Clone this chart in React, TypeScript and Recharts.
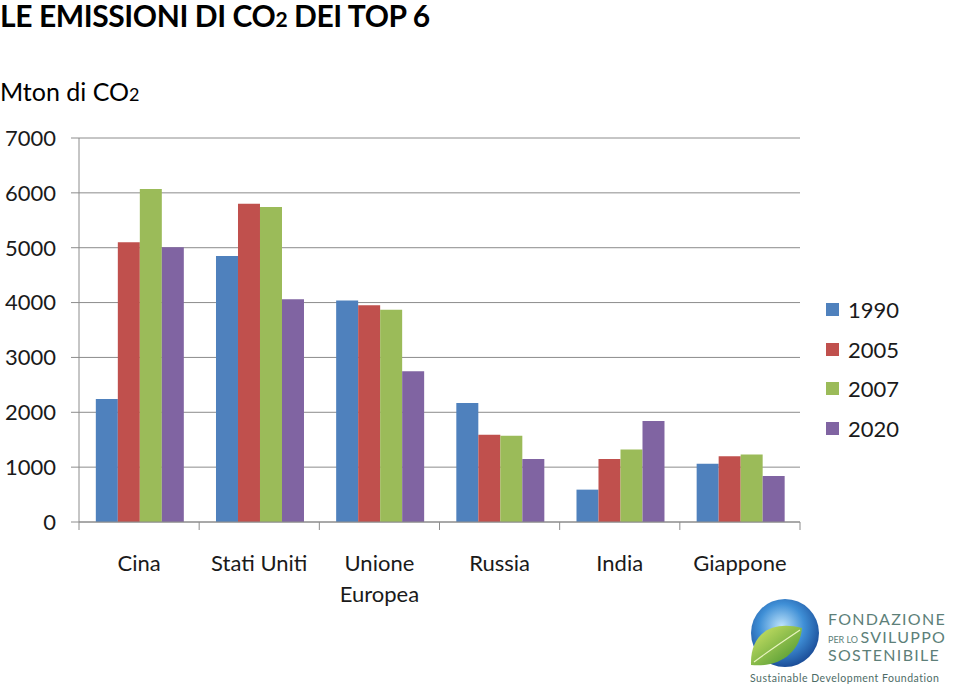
import React from "react";
import { BarChart, Bar, XAxis, YAxis, CartesianGrid } from "recharts";

const categories = ["Cina", "Stati Uniti", "Unione\nEuropea", "Russia", "India", "Giappone"];
const series1990 = [2240, 4850, 4040, 2170, 590, 1060];
const series2005 = [5100, 5800, 3950, 1590, 1150, 1200];
const series2007 = [6070, 5740, 3870, 1570, 1320, 1230];
const series2020 = [5010, 4060, 2750, 1150, 1840, 840];
const yTicks = [0, 1000, 2000, 3000, 4000, 5000, 6000, 7000];
const seriesNames = ["1990", "2005", "2007", "2020"];
const seriesColors = ["#4F81BD", "#C0504D", "#9BBB59", "#8064A2"];

const data = categories.map((c, i) => ({
  name: c,
  "1990": series1990[i],
  "2005": series2005[i],
  "2007": series2007[i],
  "2020": series2020[i],
}));

const FONT = "Lato, 'Open Sans', sans-serif";
const GRID = "#8c8c8c";

const CategoryTick = (props: any) => {
  const { x, y, payload, index, visibleTicksCount } = props;
  const half = payload && payload.offset ? payload.offset : 60;
  const lines = String(payload.value).split("\n");
  const last = index === (visibleTicksCount ?? categories.length) - 1;
  return (
    <g>
      <line x1={x - half} x2={x - half} y1={y - 8} y2={y} stroke={GRID} strokeWidth={1} />
      {last && <line x1={x + half} x2={x + half} y1={y - 8} y2={y} stroke={GRID} strokeWidth={1} />}
      <text x={x} y={y} textAnchor="middle" fill="#1a1a1a" fontFamily={FONT} fontSize={22}>
        {lines.map((l, i) => (
          <tspan key={i} x={x} dy={i === 0 ? 41 : 31}>
            {l}
          </tspan>
        ))}
      </text>
    </g>
  );
};

const LegendBox = () => (
  <div style={{ position: "absolute", left: 826, top: 290, fontFamily: FONT }}>
    {seriesNames.map((n, i) => (
      <div key={n} style={{ display: "flex", alignItems: "center", height: 39.5 }}>
        <div style={{ width: 13, height: 13, background: seriesColors[i], marginRight: 9 }} />
        <span style={{ fontSize: 22, color: "#1a1a1a" }}>{n}</span>
      </div>
    ))}
  </div>
);

const Logo = () => (
  <svg width={230} height={99} style={{ position: "absolute", left: 730, top: 590 }}>
    <defs>
      <radialGradient id="globe" cx="45%" cy="40%" r="60%">
        <stop offset="0%" stopColor="#bfe4fb" />
        <stop offset="55%" stopColor="#3f8fd6" />
        <stop offset="100%" stopColor="#1c4f9a" />
      </radialGradient>
      <linearGradient id="leaf" x1="0" y1="0" x2="1" y2="1">
        <stop offset="0%" stopColor="#d5e86a" />
        <stop offset="100%" stopColor="#3f8f2a" />
      </linearGradient>
    </defs>
    <circle cx={55} cy={43} r={34} fill="url(#globe)" />
    <path d="M21 75 C 20 45, 40 30, 72 38 C 70 62, 50 78, 21 75 Z" fill="url(#leaf)" />
    <path d="M24 72 C 40 60, 55 50, 70 40" stroke="#e9f4c0" strokeWidth={1.2} fill="none" />
    <text x={98} y={35} fontFamily={FONT} fontSize={16} fill="#5d7f79" letterSpacing={1.3}>FONDAZIONE</text>
    <text x={98} y={53} fontFamily={FONT} fill="#5d7f79">
      <tspan fontSize={9}>PER LO </tspan>
      <tspan fontSize={16} letterSpacing={1.3}>SVILUPPO</tspan>
    </text>
    <text x={98} y={71} fontFamily={FONT} fontSize={16} fill="#5d7f79" letterSpacing={1.3}>SOSTENIBILE</text>
    <text x={20} y={92} fontFamily={FONT} fontSize={10.5} fill="#4d6b66" letterSpacing={0.5}>Sustainable Development Foundation</text>
  </svg>
);

export default function App() {
  return (
    <div style={{ position: "absolute", left: 0, top: 0, width: 960, height: 689, background: "#fff", fontFamily: FONT }}>
      <div style={{ position: "absolute", left: 0, top: 0, fontSize: 30, lineHeight: "30px", fontWeight: 700, color: "#000", whiteSpace: "nowrap", letterSpacing: -0.4 }}>
        LE EMISSIONI DI CO<span style={{ fontSize: 21 }}>2</span> DEI TOP 6
      </div>
      <div style={{ position: "absolute", left: 0, top: 76, fontSize: 25, lineHeight: "30px", color: "#000", whiteSpace: "nowrap" }}>
        Mton di CO<span style={{ fontSize: 18 }}>2</span>
      </div>
      <div style={{ position: "absolute", left: 0, top: 0 }}>
        <BarChart
          width={960}
          height={689}
          data={data}
          margin={{ top: 138, right: 160, bottom: 67, left: 0 }}
          barCategoryGap="14%"
          barGap={0}
        >
          <CartesianGrid horizontal vertical={false} stroke={GRID} strokeWidth={1} />
          <XAxis
            dataKey="name"
            height={100}
            axisLine={{ stroke: GRID }}
            tickLine={false}
            tickSize={8}
            tickMargin={0}
            interval={0}
            tick={<CategoryTick />}
          />
          <YAxis
            width={79}
            domain={[0, 7000]}
            ticks={yTicks}
            interval={0}
            axisLine={{ stroke: GRID }}
            tickLine={{ stroke: GRID }}
            tickSize={8}
            tickMargin={15}
            tick={{ fill: "#1a1a1a", fontSize: 22, fontFamily: FONT }}
          />
          {seriesNames.map((n, i) => (
            <Bar key={n} dataKey={n} fill={seriesColors[i]} isAnimationActive={false} />
          ))}
        </BarChart>
      </div>
      <LegendBox />
      <Logo />
    </div>
  );
}
